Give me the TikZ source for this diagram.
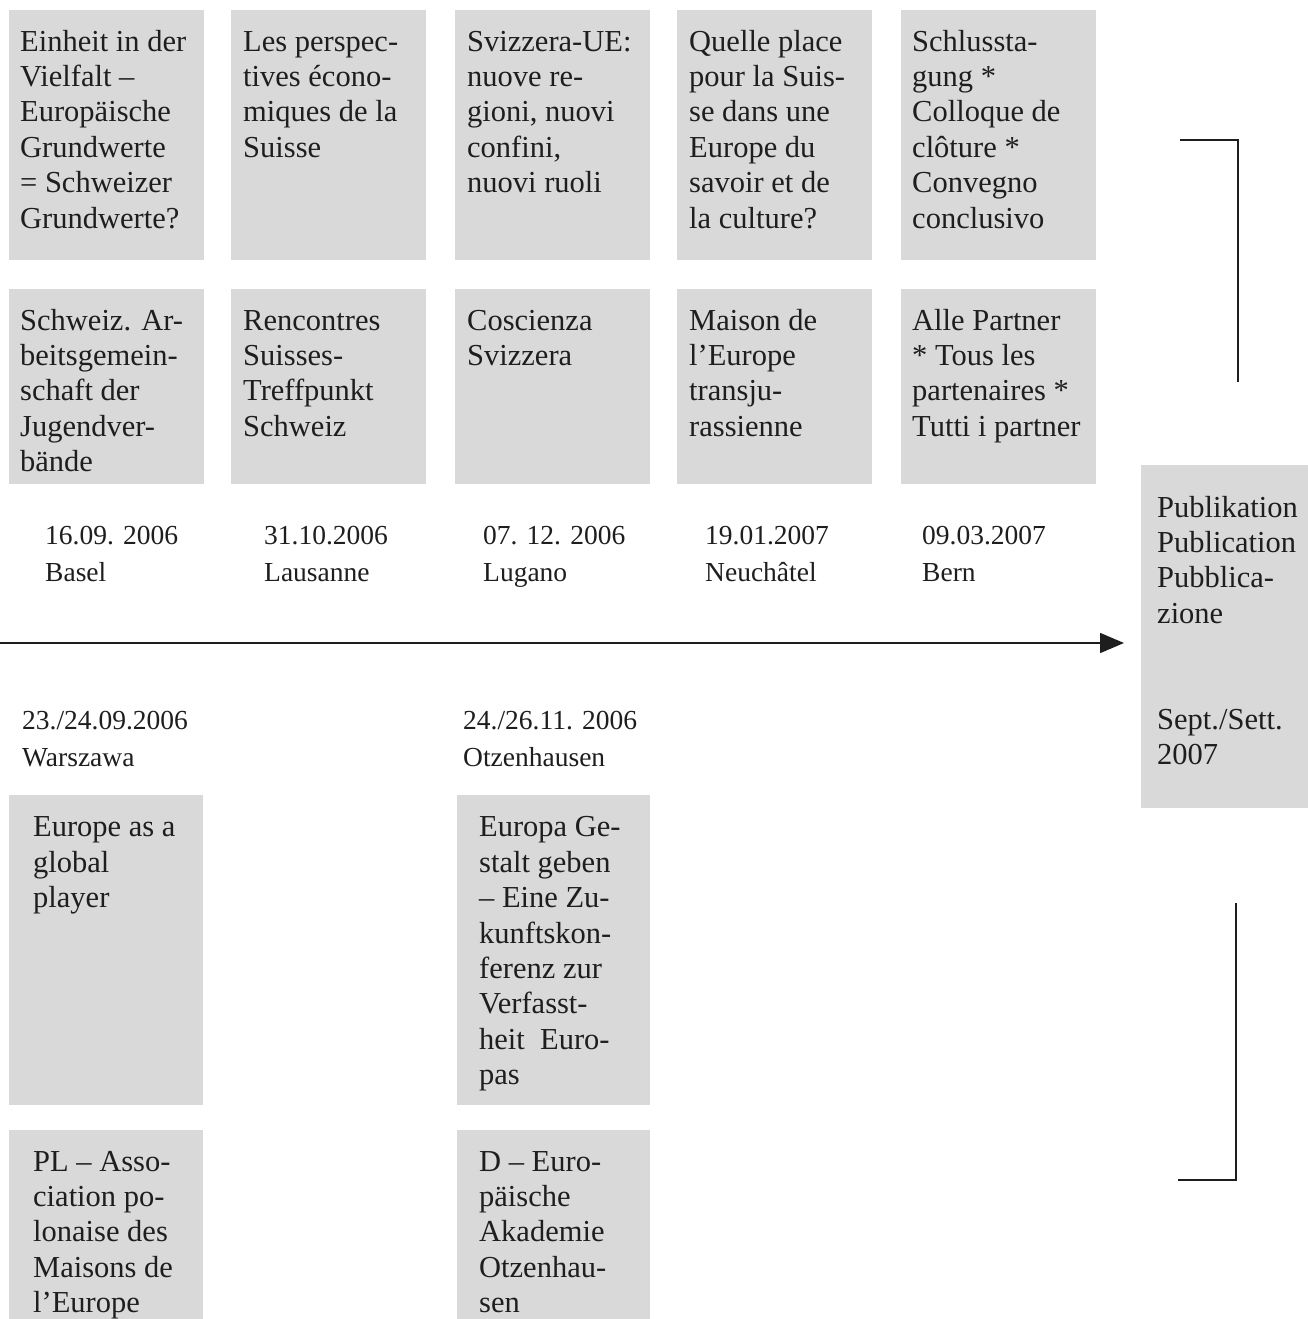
\documentclass[tikz,border=0pt]{standalone}
\usepackage{fontspec}
\setmainfont{Liberation Serif}
\usetikzlibrary{arrows.meta}
\definecolor{panelgray}{RGB}{217,217,217}
\definecolor{inkcol}{RGB}{30,30,30}
\begin{document}
\begin{tikzpicture}[x=1pt,y=-1pt,
  panel/.style={fill=panelgray, draw=none, anchor=north west, inner sep=0pt, minimum width=#1},
  panel/.default=195pt,
  btext/.style={anchor=north west, inner sep=0pt, align=left, text=inkcol,
    font=\fontsize{30.5}{35.4}\selectfont},
  dtext/.style={anchor=north west, inner sep=0pt, align=left, text=inkcol,
    font=\fontsize{27.5}{37}\selectfont},
  rule/.style={draw=inkcol, line width=1.7pt},
  timeline/.style={draw=inkcol, line width=1.6pt, -{Triangle[length=24pt,width=20pt]}}
]
\useasboundingbox (0,0) rectangle (1308,1319);
\fill[white] (0,0) rectangle (1308,1319);

% ---- top row: themes ----
\node[panel, minimum height=250pt] (t1) at (9,10) {};
\node[panel, minimum height=250pt] (t2) at (231,10) {};
\node[panel, minimum height=250pt] (t3) at (455,10) {};
\node[panel, minimum height=250pt] (t4) at (677,10) {};
\node[panel, minimum height=250pt] (t5) at (901,10) {};
\node[btext] (t1x) at ([shift={(11,16.2)}]t1.north west) {\strut Einheit in der\\Vielfalt –\\Europäische\\Grundwerte\\= Schweizer\\Grundwerte?};
\node[btext] (t2x) at ([shift={(12,16.2)}]t2.north west) {\strut Les perspec-\\tives écono-\\miques de la\\Suisse};
\node[btext] (t3x) at ([shift={(12,16.2)}]t3.north west) {\strut Svizzera-UE:\\nuove re-\\gioni, nuovi\\confini,\\nuovi ruoli};
\node[btext] (t4x) at ([shift={(12,16.2)}]t4.north west) {\strut Quelle place\\pour la Suis-\\se dans une\\Europe du\\savoir et de\\la culture?};
\node[btext] (t5x) at ([shift={(11,16.2)}]t5.north west) {\strut Schlussta-\\gung *\\Colloque de\\clôture *\\Convegno\\conclusivo};

% ---- second row: partners ----
\node[panel, minimum height=195pt] (p1) at (9,289) {};
\node[panel, minimum height=195pt] (p2) at (231,289) {};
\node[panel, minimum height=195pt] (p3) at (455,289) {};
\node[panel, minimum height=195pt] (p4) at (677,289) {};
\node[panel, minimum height=195pt] (p5) at (901,289) {};
\node[btext] (p1x) at ([shift={(11,16.2)}]p1.north west) {\strut Schweiz. Ar-\\beitsgemein-\\schaft der\\Jugendver-\\bände};
\node[btext] (p2x) at ([shift={(12,16.2)}]p2.north west) {\strut Rencontres\\Suisses-\\Treffpunkt\\Schweiz};
\node[btext] (p3x) at ([shift={(12,16.2)}]p3.north west) {\strut Coscienza\\Svizzera};
\node[btext] (p4x) at ([shift={(12,16.2)}]p4.north west) {\strut Maison de\\l’Europe\\transju-\\rassienne};
\node[btext] (p5x) at ([shift={(11,16.2)}]p5.north west) {\strut Alle Partner\\* Tous les\\partenaires *\\Tutti i partner};

% ---- dates above the timeline ----
\node[dtext] (d1) at (45,518) {\strut 16.09. 2006\\Basel};
\node[dtext] (d2) at (264,518) {\strut 31.10.2006\\Lausanne};
\node[dtext] (d3) at (483,518) {\strut 07. 12. 2006\\Lugano};
\node[dtext] (d4) at (705,518) {\strut 19.01.2007\\Neuchâtel};
\node[dtext] (d5) at (922,518) {\strut 09.03.2007\\Bern};

% ---- publication ----
\node[panel=167pt, minimum height=343pt] (pub) at (1141,465) {};
\node[btext] (pubx) at ([shift={(16,27.2)}]pub.north west) {\strut Publikation\\Publication\\Pubblica-\\zione\\[70.8pt]Sept./Sett.\\2007};

% ---- timeline ----
\coordinate (tstart) at (0,643);
\draw[timeline, shorten >=17pt] (tstart) -- (pub.west |- tstart);

% ---- dates below the timeline ----
\node[dtext] (d6) at (22,703) {\strut 23./24.09.2006\\Warszawa};
\node[dtext] (d7) at (463,703) {\strut 24./26.11. 2006\\Otzenhausen};

% ---- lower boxes ----
\node[panel=194pt, minimum height=310pt] (l1) at (9,795) {};
\node[panel=193pt, minimum height=310pt] (l2) at (457,795) {};
\node[btext] (l1x) at ([shift={(24,17)}]l1.north west) {\strut Europe as a\\global\\player};
\node[btext] (l2x) at ([shift={(22,17)}]l2.north west) {\strut Europa Ge-\\stalt geben\\– Eine Zu-\\kunftskon-\\ferenz zur\\Verfasst-\\heit~~Euro-\\pas};

\node[panel=194pt, minimum height=189pt] (m1) at (9,1130) {};
\node[panel=193pt, minimum height=189pt] (m2) at (457,1130) {};
\node[btext] (m1x) at ([shift={(24,16.2)}]m1.north west) {\strut PL – Asso-\\ciation po-\\lonaise des\\Maisons de\\l’Europe};
\node[btext] (m2x) at ([shift={(22,16.2)}]m2.north west) {\strut D – Euro-\\päische\\Akademie\\Otzenhau-\\sen};

% ---- brackets ----
\coordinate (ba1) at (1180,140);
\coordinate (ba2) at (1238,140);
\coordinate (ba3) at (1238,382);
\draw[rule] (ba1) -- (ba2) -- (ba3);
\coordinate (bb1) at (1236,903);
\coordinate (bb2) at (1236,1180);
\coordinate (bb3) at (1178,1180);
\draw[rule] (bb1) -- (bb2) -- (bb3);
\end{tikzpicture}
\end{document}
